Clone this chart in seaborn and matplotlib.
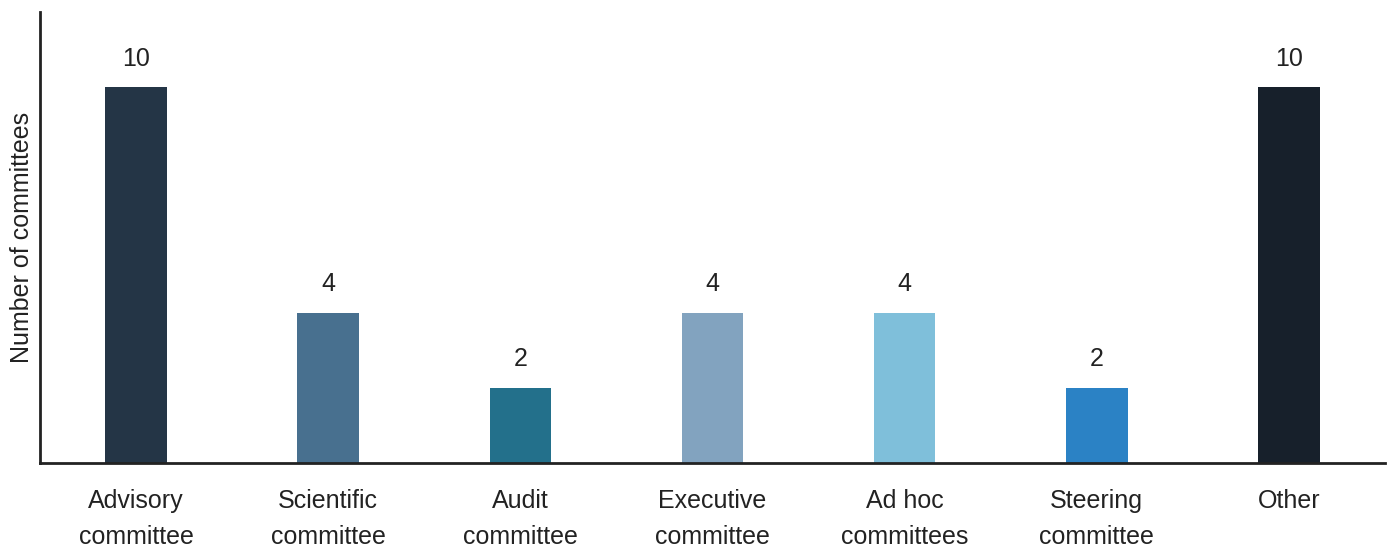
import matplotlib
matplotlib.use("Agg")
import matplotlib.pyplot as plt
import seaborn as sns
import pandas as pd

categories = ["Advisory\ncommittee", "Scientific\ncommittee", "Audit\ncommittee",
              "Executive\ncommittee", "Ad hoc\ncommittees", "Steering\ncommittee", "Other"]
counts = [10, 4, 2, 4, 4, 2, 10]
colors = ["#243546", "#48708F", "#23708B", "#82A3BF", "#7FBFDA", "#2B82C5", "#17202B"]

sns.set_theme(style="white")
plt.rcParams["font.family"] = ["Liberation Sans", "DejaVu Sans"]

df = pd.DataFrame({"category": categories, "count": counts})

fig = plt.figure(figsize=(13.89, 5.49), dpi=100)
ax = fig.add_axes([0.0288, 0.1566, 0.9683, 0.8215])

sns.barplot(data=df, x="category", y="count", hue="category", palette=colors,
            width=0.32, legend=False, ax=ax, saturation=1, linewidth=0)

for patch, val in zip(ax.patches, counts):
    ax.annotate(f"{val}", (patch.get_x() + patch.get_width() / 2, patch.get_height()),
                xytext=(0, 12), textcoords="offset points", ha="center", va="bottom",
                fontsize=18, color="#222222")

ax.set_xlim(-0.5, 6.5)
ax.set_ylim(0, 12)
ax.set_yticks([])
ax.set_xlabel("")
ax.set_ylabel("Number of committees", fontsize=18, color="#222222", labelpad=4)
ax.set_xticks(range(len(categories)), labels=categories, linespacing=1.6)
ax.tick_params(axis="x", length=0, pad=19, labelsize=18, labelcolor="#222222")

for side in ["top", "right"]:
    ax.spines[side].set_visible(False)
for side in ["left", "bottom"]:
    ax.spines[side].set_color("#222222")
    ax.spines[side].set_linewidth(2)

fig.savefig("out.png", dpi=100, facecolor="white")
